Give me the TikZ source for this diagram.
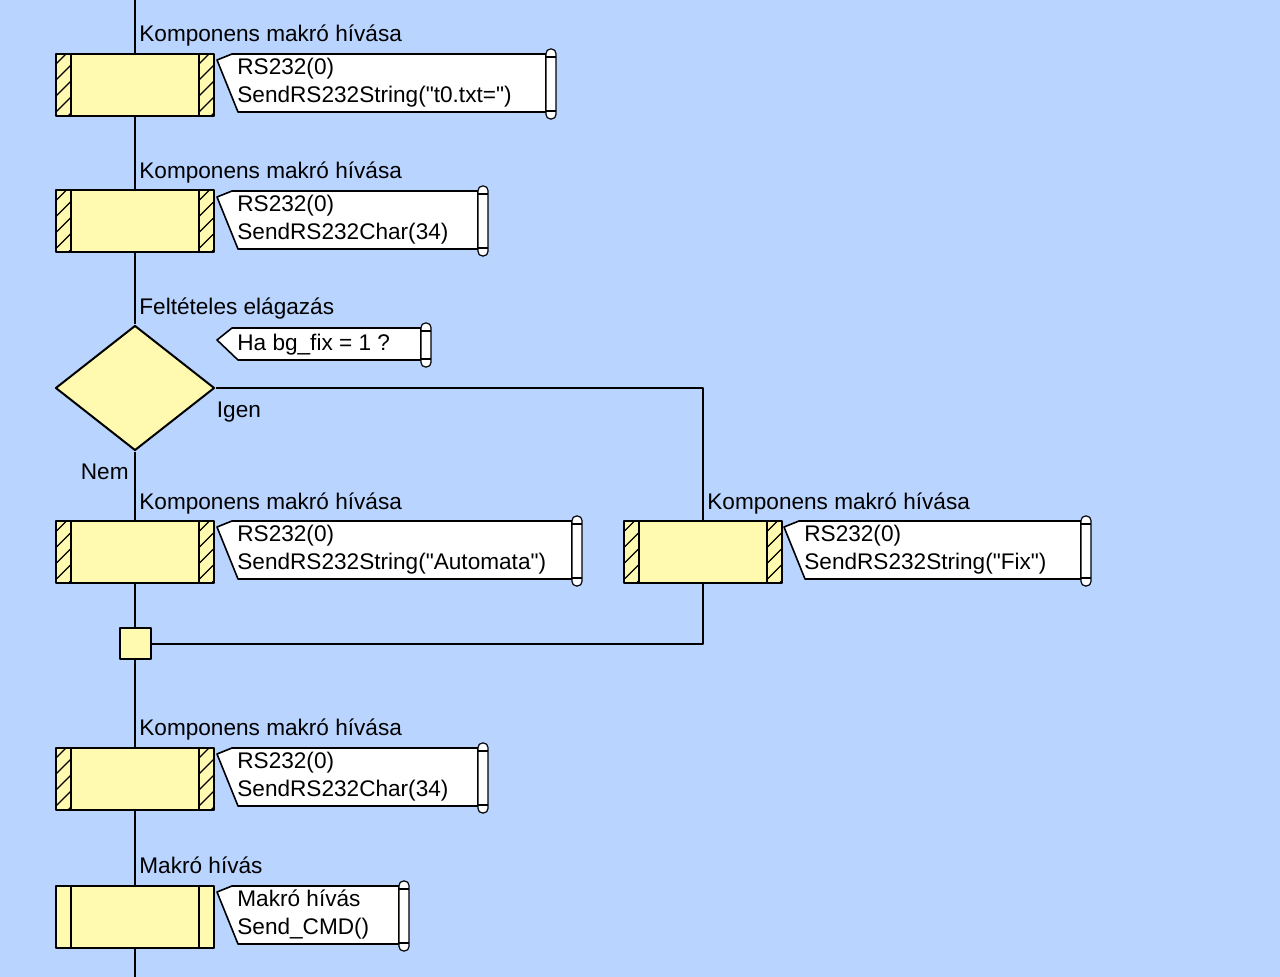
\documentclass[tikz,border=0pt]{standalone}
\usepackage{fontspec}
\setmainfont{Liberation Sans}
\usetikzlibrary{shapes.geometric,positioning}
\definecolor{bgblue}{RGB}{185,212,255}
\definecolor{boxfill}{RGB}{255,250,175}
\newcommand{\qq}{\textquotedbl}
\newcommand{\stripes}{\draw[line width=1pt]
  ([xshift=7.5pt]path picture bounding box.north west) -- ([xshift=7.5pt]path picture bounding box.south west)
  ([xshift=-7.5pt]path picture bounding box.north east) -- ([xshift=-7.5pt]path picture bounding box.south east);}
\newcommand{\hatching}{\foreach \k in {0,...,4}
  \draw[line width=0.6pt] ([yshift=\k*8pt-6pt]path picture bounding box.south west) -- ++(7.5pt,7.5pt)
    ([shift={(-7.5pt,\k*8pt-6pt)}]path picture bounding box.south east) -- ++(7.5pt,7.5pt);}
\newcommand{\notebox}[7]{%
  \filldraw[note] (#2+15,#3) -- (#2,#3+#6) -- (#2+21,#5) -- (#4,#5) -- (#4,#3) -- cycle;
  \filldraw[note,line width=0.6pt,rounded corners=2.25pt] (#4,#3-5) rectangle (#4+10,#5+7);
  \draw[note,line width=0.6pt] (#4,#3+3) -- (#4+10,#3+3) (#4,#5-1) -- (#4+10,#5-1);
  \node[notetext] (#1) at (#2+20,#5-9) {#7};}
\begin{document}
\begin{tikzpicture}[x=0.5pt,y=-0.5pt,line join=round,font=\fontsize{11.3}{14}\selectfont]
  \tikzset{flow/.style={line width=1pt},
    blk/.style={draw,line width=1pt,fill=boxfill,minimum width=79pt,minimum height=31pt,inner sep=0pt},
    compbox/.style={blk,path picture={\stripes\hatching}},
    callbox/.style={blk,path picture={\stripes}},
    decision/.style={diamond,draw,line width=1pt,fill=boxfill,minimum width=79.5pt,minimum height=62.5pt,inner sep=0pt},
    joint/.style={draw,line width=1pt,fill=boxfill,minimum size=15.5pt,inner sep=0pt},
    title/.style={anchor=base west,inner sep=0pt},
    note/.style={fill=white,draw,line width=0.8pt},
    notetext/.style={anchor=base west,align=left,inner sep=0pt}}
  \fill[bgblue] (0,0) rectangle (1280,977);
  \useasboundingbox (0,0) rectangle (1280,977);
  \coordinate (top) at (135,0);
  \coordinate (bot) at (135,977);
  \node[compbox] (b1) at (135,85) {};
  \node[compbox] (b2) at (135,221.5) {};
  \node[decision] (d) at (135,388) {};
  \node[compbox] (b3) at (135,552.5) {};
  \node[compbox] (b4) at (703,552.5) {};
  \node[joint] (j) at (135,644) {};
  \node[compbox] (b5) at (135,779) {};
  \node[callbox] (b6) at (135,917) {};
  \foreach \a/\b in {top/b1,b1/b2,b2/d,d/b3,b3/j,j/b5,b5/b6,b6/bot}
    \draw[flow] (\a) -- (\b);
  \draw[flow] (d.east) -| (b4.north);
  \draw[flow] (b4.south) |- (j.east);
  \foreach \n/\t in {b1/Komponens makró hívása,b2/Komponens makró hívása,b3/Komponens makró hívása,b4/Komponens makró hívása,b5/Komponens makró hívása,b6/Makró hívás}
    \node[title] (t\n) at ([shift={(2pt,5.5pt)}]\n.north) {\t};
  \node[title] (td) at ([shift={(2pt,5pt)}]d.north) {Feltételes elágazás};
  \node[title,anchor=base east] (nem) at ([shift={(-3pt,-14pt)}]d.south) {Nem};
  \node[title] (igen) at ([shift={(0.5pt,-15pt)}]d.east) {Igen};
  \notebox{n1}{217}{54}{546}{112}{6}{RS232(0)\\SendRS232String(\qq t0.txt=\qq)}
  \notebox{n2}{217}{191}{478}{249}{6}{RS232(0)\\SendRS232Char(34)}
  \notebox{n3}{217}{328}{421}{360}{12}{Ha bg\_fix = 1 ?}
  \notebox{n4}{217}{521}{572}{579}{6}{RS232(0)\\SendRS232String(\qq Automata\qq)}
  \notebox{n5}{784}{521}{1081}{579}{6}{RS232(0)\\SendRS232String(\qq Fix\qq)}
  \notebox{n6}{217}{748}{478}{806}{6}{RS232(0)\\SendRS232Char(34)}
  \notebox{n7}{217}{886}{399}{944}{6}{Makró hívás\\Send\_CMD()}
\end{tikzpicture}
\end{document}
